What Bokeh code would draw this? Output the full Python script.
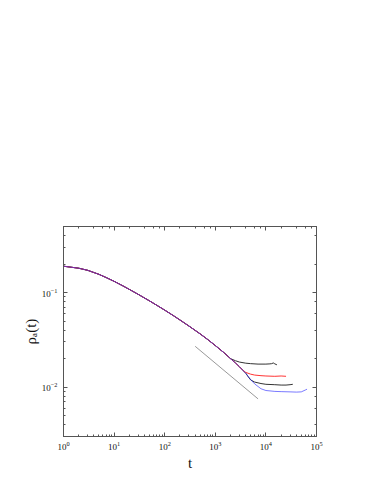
from bokeh.plotting import figure
from bokeh.models import LogAxis, CustomJSTickFormatter
from bokeh.embed import file_html
from bokeh.resources import INLINE

# common early-time curve (all samples coincide)
t_common = [1, 2, 3, 5, 7, 10, 15, 20, 30, 50, 70, 100, 150, 200, 300, 500, 700, 1000, 1500, 2000]
y_common = [0.190, 0.181, 0.172, 0.156, 0.144, 0.1315, 0.1175, 0.108, 0.0957, 0.0817, 0.0733,
            0.0652, 0.0568, 0.0513, 0.0443, 0.0366, 0.0320, 0.0275, 0.0230, 0.0200]

# late-time branches
t_black1 = [2500, 3000, 4000, 5000, 7000, 10000, 12000, 13000, 14000, 15000, 16500]
y_black1 = [0.0190, 0.0184, 0.0179, 0.0177, 0.0175, 0.0175, 0.0176, 0.0177, 0.0180, 0.0176, 0.0172]

t_red = [2500, 3000, 3500, 4000, 5000, 6000, 8000, 10000, 15000, 20000, 25000]
y_red = [0.0180, 0.0164, 0.0151, 0.0143, 0.0137, 0.0134, 0.0132, 0.0131, 0.0130, 0.0131, 0.0130]

t_black2 = [2500, 3000, 4000, 4500, 5000, 6000, 8000, 10000, 15000, 20000, 25000, 30000, 34000]
y_black2 = [0.0180, 0.0164, 0.0140, 0.0128, 0.0119, 0.0113, 0.0109, 0.0107, 0.0106, 0.0105, 0.0105, 0.0106, 0.0107]

t_blue = [2500, 3000, 4000, 5000, 6000, 8000, 10000, 15000, 20000, 30000, 40000, 50000, 60000, 65000]
y_blue = [0.0180, 0.0164, 0.0140, 0.0120, 0.0108, 0.0096, 0.0092, 0.0090, 0.00895, 0.0089, 0.00885, 0.0089, 0.0093, 0.0095]

# reference power-law line
t_ref = [400, 7000]
y_ref = [0.027, 0.0075]

p = figure(x_axis_type="log", y_axis_type="log", x_range=(1, 1e5), y_range=(0.003, 0.5),
           frame_width=253, frame_height=210, min_border_left=63, min_border_top=226,
           min_border_right=50, min_border_bottom=41,
           output_backend="svg", toolbar_location=None)
p.grid.visible = False
p.outline_line_color = "#555555"
p.background_fill_color = "white"
p.border_fill_color = "white"

p.line(t_ref, y_ref, line_color="#999999", line_width=1)
p.line(t_common + t_black1, y_common + y_black1, line_color="#333333", line_width=1)
p.line(t_common + t_black2, y_common + y_black2, line_color="#333333", line_width=1)
p.line(t_common + t_red, y_common + y_red, line_color="#ff3333", line_width=1)
p.line(t_common + t_blue, y_common + y_blue, line_color="#2222ff", line_width=1, line_alpha=0.6)

def style(ax):
    ax.axis_line_color = "#555555"
    ax.major_tick_line_color = "#555555"
    ax.minor_tick_line_color = "#555555"
    ax.major_tick_in = 4
    ax.major_tick_out = 0
    ax.minor_tick_in = 2
    ax.minor_tick_out = 0
    ax.major_label_text_font = "Liberation Serif"
    ax.major_label_text_font_size = "9px"
    ax.major_label_text_color = "#111111"

for ax in p.xaxis:
    style(ax)
    ax.axis_label = "t"
    ax.axis_label_text_font = "Liberation Serif"
    ax.axis_label_text_font_style = "normal"
    ax.axis_label_text_font_size = "15px"
    ax.axis_label_text_color = "#111111"
    ax.axis_label_standoff = 2
    ax.major_label_standoff = 5
for ax in p.yaxis:
    style(ax)
    ax.axis_label = "ρₐ(t)"
    ax.axis_label_text_font = "Liberation Serif"
    ax.axis_label_text_font_style = "normal"
    ax.axis_label_text_font_size = "15px"
    ax.axis_label_text_color = "#111111"
    ax.axis_label_standoff = 0
    ax.major_label_standoff = 6

blank = CustomJSTickFormatter(code="return ' '")
top = LogAxis(formatter=blank)
style(top)
p.add_layout(top, "above")
right = LogAxis(formatter=blank)
style(right)
p.add_layout(right, "right")

open("out.html", "w").write(file_html(p, INLINE))
